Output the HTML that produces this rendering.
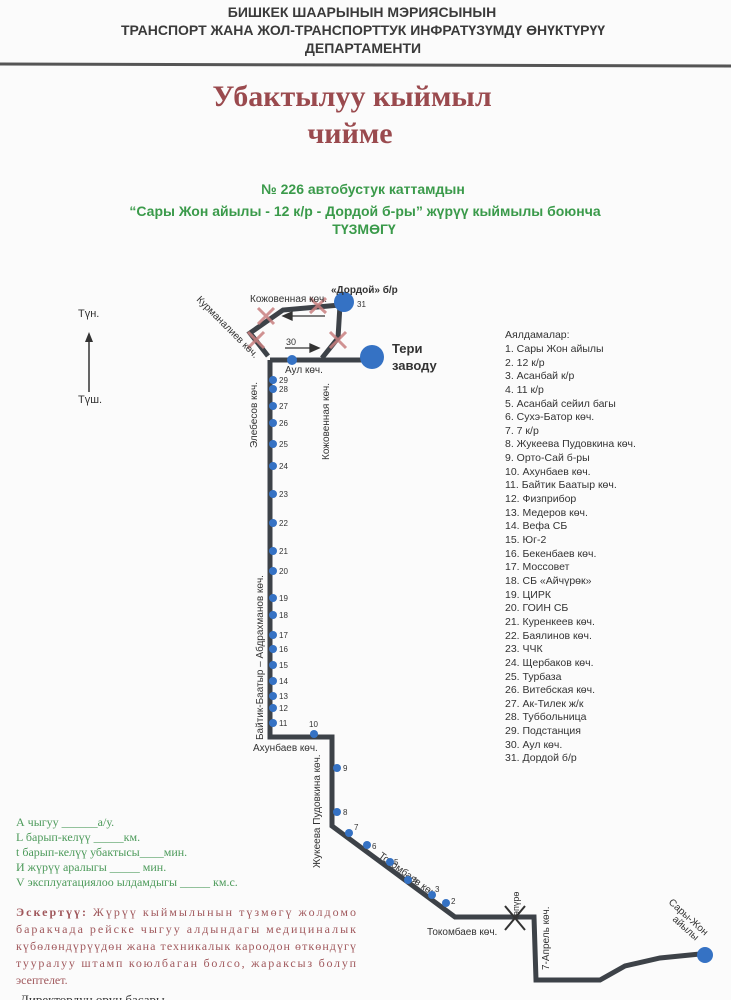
<!DOCTYPE html>
<html><head><meta charset="utf-8"><style>
body{margin:0;background:#fdfdfd;}
svg{display:block}
</style></head><body>
<svg width="731" height="1000" viewBox="0 0 731 1000" xmlns="http://www.w3.org/2000/svg" font-family="Liberation Sans, sans-serif">
<rect width="731" height="1000" fill="#fbfbfb"/>
<!-- header -->
<g fill="#3a3a3a" font-weight="bold" font-size="14" text-anchor="middle">
<text x="362" y="17">БИШКЕК ШААРЫНЫН  МЭРИЯСЫНЫН</text>
<text x="363" y="35">ТРАНСПОРТ ЖАНА ЖОЛ-ТРАНСПОРТТУК ИНФРАТҮЗҮМДҮ ӨНҮКТҮРҮҮ</text>
<text x="363" y="53">ДЕПАРТАМЕНТИ</text>
</g>
<line x1="0" y1="64" x2="731" y2="66" stroke="#555" stroke-width="3"/>
<g fill="#9a4a4e" font-family="Liberation Serif, serif" font-weight="bold" font-size="30" text-anchor="middle">
<text x="352" y="106">Убактылуу кыймыл</text>
<text x="350" y="143">чийме</text>
</g>
<g fill="#3a9a4a" font-weight="bold" font-size="14" text-anchor="middle">
<text x="363" y="194">№ 226  автобустук каттамдын</text>
<text x="365" y="216">“Сары Жон айылы -  12 к/р  - Дордой б-ры” жүрүү кыймылы боюнча</text>
<text x="364" y="234">ТҮЗМӨГҮ</text>
</g>
<!-- compass -->
<text x="78" y="317" font-size="11" fill="#333">Түн.</text>
<line x1="89" y1="392" x2="89" y2="338" stroke="#333" stroke-width="1.5"/>
<polygon points="89,332 85,342 93,342" fill="#333"/>
<text x="78" y="403" font-size="11" fill="#333">Түш.</text>
<!-- route -->
<g stroke="#3d4248" stroke-width="5" fill="none" stroke-linejoin="miter">
<polyline points="270,360 270,737 332,737 332,826 455,917 534,917 536,980 600,980 625,966 660,958 700,954"/>
<line x1="270" y1="360" x2="372" y2="360"/>
<polyline points="268,356 250,333 283,310 340,305 338,338 322,358"/>
</g>
<!-- arrows -->
<g stroke="#333" stroke-width="1.3" fill="#333">
<line x1="325" y1="316" x2="290" y2="316"/><polygon points="283,316 292,312 292,320"/>
<line x1="285" y1="348" x2="312" y2="348"/><polygon points="319,348 310,344 310,352"/>
</g>
<text x="286" y="345" font-size="9" fill="#333">30</text>
<!-- crosses -->
<g stroke="#c98080" stroke-width="3" opacity="0.85">
<path d="M258,308 L274,324 M274,308 L258,324"/>
<path d="M310,298 L326,313 M326,298 L310,313"/>
<path d="M330,332 L346,348 M346,332 L330,348"/>
<path d="M248,332 L264,348 M264,332 L248,348"/>
</g>
<circle cx="344" cy="302" r="10" fill="#3572c4"/>
<circle cx="372" cy="357" r="12" fill="#3572c4"/>
<circle cx="705" cy="955" r="8" fill="#3572c4"/>
<circle cx="292" cy="360" r="5" fill="#3572c4"/>
<g font-size="10" fill="#333">
<text x="331" y="293" font-weight="bold">«Дордой» б/р</text>
<text x="357" y="307" font-size="8">31</text>
<text x="250" y="302">Кожовенная көч.</text>
<text x="392" y="353" font-size="13" font-weight="bold">Тери</text>
<text x="392" y="370" font-size="13" font-weight="bold">заводу</text>
<text x="285" y="373">Аул көч.</text>
<text transform="translate(196,300) rotate(45)">Курманалиев көч.</text>
<text transform="translate(257,448) rotate(-90)">Элебесов көч.</text>
<text transform="translate(329,460) rotate(-90)">Кожовенная көч.</text>
<text transform="translate(263,740) rotate(-90)">Байтик-Баатыр – Абдрахманов көч.</text>
<text x="253" y="751">Ахунбаев көч.</text>
<text transform="translate(320,868) rotate(-90)">Жукеева Пудовкина көч.</text>
<text transform="translate(378,857) rotate(36)">Токомбаев көч.</text>
<text x="427" y="935">Токомбаев көч.</text>
<text transform="translate(519,920) rotate(-90)" font-size="9">көпүрө</text>
<text transform="translate(549,970) rotate(-90)">7-Апрель көч.</text>
<text transform="translate(668,903) rotate(42)">Сары-Жон</text>
<text transform="translate(672,920) rotate(42)">айылы</text>
</g>
<path d="M505,906 L525,930 M525,906 L505,930" stroke="#333" stroke-width="2"/>
<!-- stops -->
<g fill="#3572c4">
<circle cx="273" cy="380" r="4"/><circle cx="273" cy="389" r="4"/><circle cx="273" cy="406" r="4"/>
<circle cx="273" cy="423" r="4"/><circle cx="273" cy="444" r="4"/><circle cx="273" cy="466" r="4"/>
<circle cx="273" cy="494" r="4"/><circle cx="273" cy="523" r="4"/><circle cx="273" cy="551" r="4"/>
<circle cx="273" cy="571" r="4"/><circle cx="273" cy="598" r="4"/><circle cx="273" cy="615" r="4"/>
<circle cx="273" cy="635" r="4"/><circle cx="273" cy="649" r="4"/><circle cx="273" cy="665" r="4"/>
<circle cx="273" cy="681" r="4"/><circle cx="273" cy="696" r="4"/><circle cx="273" cy="708" r="4"/>
<circle cx="273" cy="723" r="4"/><circle cx="314" cy="734" r="4"/>
<circle cx="337" cy="768" r="4"/><circle cx="337" cy="812" r="4"/><circle cx="349" cy="833" r="4"/>
<circle cx="367" cy="845" r="4"/><circle cx="390" cy="862" r="4"/><circle cx="408" cy="880" r="4"/>
<circle cx="432" cy="895" r="4"/><circle cx="446" cy="903" r="4"/>
</g>
<g font-size="8" fill="#333">
<text x="279" y="383">29</text><text x="279" y="392">28</text><text x="279" y="409">27</text>
<text x="279" y="426">26</text><text x="279" y="447">25</text><text x="279" y="469">24</text>
<text x="279" y="497">23</text><text x="279" y="526">22</text><text x="279" y="554">21</text>
<text x="279" y="574">20</text><text x="279" y="601">19</text><text x="279" y="618">18</text>
<text x="279" y="638">17</text><text x="279" y="652">16</text><text x="279" y="668">15</text>
<text x="279" y="684">14</text><text x="279" y="699">13</text><text x="279" y="711">12</text>
<text x="279" y="726">11</text><text x="309" y="727">10</text>
<text x="343" y="771">9</text><text x="343" y="815">8</text><text x="354" y="830">7</text>
<text x="372" y="849">6</text><text x="394" y="865">5</text><text x="413" y="883">4</text>
<text x="435" y="892">3</text><text x="451" y="904">2</text>
</g>
<!-- legend -->
<g font-size="10.5" fill="#333">
<text x="505" y="338">Аялдамалар:</text>
<text x="505" y="352">1. Сары Жон айылы</text>
<text x="505" y="366">2.  12 к/р</text>
<text x="505" y="379">3.  Асанбай к/р</text>
<text x="505" y="393">4. 11 к/р</text>
<text x="505" y="407">5.  Асанбай сейил багы</text>
<text x="505" y="420">6.  Сухэ-Батор көч.</text>
<text x="505" y="434">7.  7 к/р</text>
<text x="505" y="447">8.  Жукеева Пудовкина көч.</text>
<text x="505" y="461">9.  Орто-Сай б-ры</text>
<text x="505" y="475">10. Ахунбаев көч.</text>
<text x="505" y="488">11. Байтик Баатыр көч.</text>
<text x="505" y="502">12. Физприбор</text>
<text x="505" y="516">13. Медеров көч.</text>
<text x="505" y="529">14. Вефа СБ</text>
<text x="505" y="543">15. Юг-2</text>
<text x="505" y="557">16. Бекенбаев көч.</text>
<text x="505" y="570">17. Моссовет</text>
<text x="505" y="584">18. СБ «Айчүрөк»</text>
<text x="505" y="598">19. ЦИРК</text>
<text x="505" y="611">20. ГОИН СБ</text>
<text x="505" y="625">21. Куренкеев көч.</text>
<text x="505" y="639">22. Баялинов көч.</text>
<text x="505" y="652">23. ЧЧК</text>
<text x="505" y="666">24. Щербаков көч.</text>
<text x="505" y="680">25. Турбаза</text>
<text x="505" y="693">26. Витебская көч.</text>
<text x="505" y="707">27. Ак-Тилек ж/к</text>
<text x="505" y="720">28. Туббольница</text>
<text x="505" y="734">29. Подстанция</text>
<text x="505" y="748">30. Аул көч.</text>
<text x="505" y="761">31. Дордой б/р</text>
</g>
<!-- params -->
<g font-family="Liberation Serif, serif" font-size="12" fill="#4c9a5a">
<text x="16" y="826">А чыгуу  ______а/у.</text>
<text x="16" y="841">L барып-келүү  _____км.</text>
<text x="16" y="856">t барып-келүү убактысы____мин.</text>
<text x="16" y="871">И жүрүү аралыгы _____     мин.</text>
<text x="16" y="886">V эксплуатациялоо ылдамдыгы _____ км.с.</text>
</g>
<g font-family="Liberation Serif, serif" font-size="12" fill="#a0585c">
<text x="16" y="916" textLength="340" lengthAdjust="spacing"><tspan font-weight="bold">Эскертүү:</tspan> Жүрүү кыймылынын түзмөгү жолдомо</text>
<text x="16" y="933" textLength="340" lengthAdjust="spacing">баракчада рейске чыгуу алдындагы медициналык</text>
<text x="16" y="950" textLength="340" lengthAdjust="spacing">күбөлөндүрүүдөн жана техникалык кароодон өткөндүгү</text>
<text x="16" y="967" textLength="340" lengthAdjust="spacing">тууралуу штамп коюлбаган болсо, жараксыз болуп</text>
<text x="16" y="984">эсептелет.</text>
</g>
<text x="20" y="1004" font-family="Liberation Serif, serif" font-size="13" fill="#333">Директордун орун басары</text>
</svg>
</body></html>
